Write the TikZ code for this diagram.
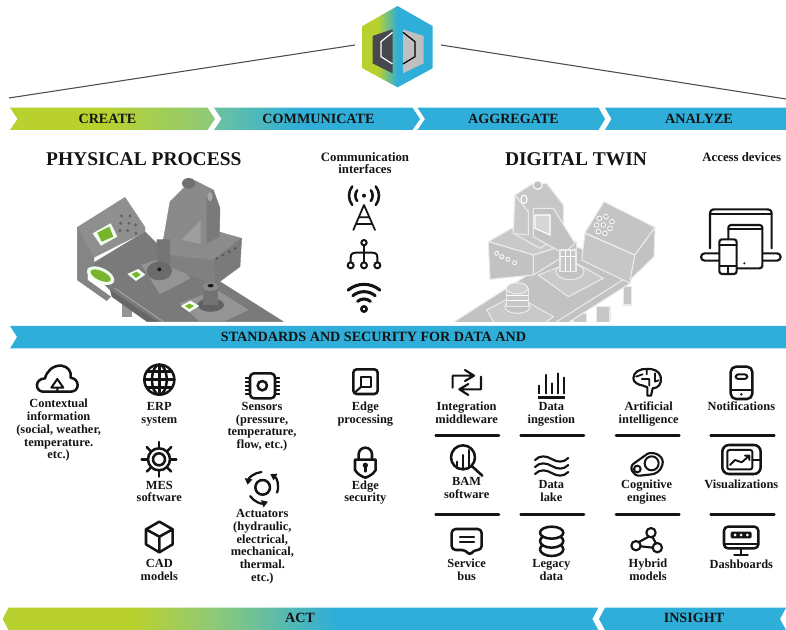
\documentclass[tikz,border=0pt]{standalone}
\usepackage{fontspec}
\setmainfont{Liberation Serif}
\usetikzlibrary{arrows.meta}
\definecolor{gr}{HTML}{B9D12F}
\definecolor{mi}{HTML}{8CC97A}
\definecolor{te}{HTML}{6CC2A0}
\definecolor{bl}{HTML}{2EAED8}
\definecolor{lgd}{HTML}{47474F}
\definecolor{mkgreen}{HTML}{78B52C}
\newcommand{\lblstrut}{\rule[-2.1pt]{0pt}{8.9pt}}
\newcommand{\lblt}[1]{\lblstrut #1\lblstrut}
\pgfdeclarehorizontalshading{createshade}{100bp}{color(0bp)=(gr); color(48bp)=(gr); color(75bp)=(mi); color(100bp)=(mi)}
\pgfdeclarehorizontalshading{commshade}{100bp}{color(0bp)=(te); color(25bp)=(te); color(46bp)=(bl); color(100bp)=(bl)}
\pgfdeclarehorizontalshading{actshade}{100bp}{color(0bp)=(gr); color(36bp)=(gr); color(43bp)=(mi); color(53bp)=(bl); color(100bp)=(bl)}
\pgfdeclarehorizontalshading{logoshade}{100bp}{color(0bp)=(gr); color(36bp)=(gr); color(50bp)=(bl); color(100bp)=(bl)}
\tikzset{
  lbl/.style={font=\bfseries\fontsize{9.3}{9.55}\selectfont,align=center,inner sep=0pt,text=black!92},
  band/.style={font=\bfseries\fontsize{10.6}{12}\selectfont,inner sep=0pt,text=black!92},
  ttl/.style={font=\bfseries\fontsize{14.6}{16}\selectfont,inner sep=0pt,text=black!92},
  sub/.style={font=\bfseries\fontsize{9.6}{9.5}\selectfont,align=center,inner sep=0pt,text=black!92},
  ic/.style={draw=black!92,line width=1.9pt,line cap=round,line join=round},
  hrl/.style={draw=black!92,line width=2pt,line cap=round},
  skyl/.style={draw=black!70,line width=.8pt},
  phys/.style={fill=#1,draw=#1,line width=.3pt,line join=round},
  twin/.style={fill=#1,draw=white!92!black,line width=.8pt,line join=round},
  mkw/.style={fill=white!94!green,draw=none},
  mkg/.style={fill=mkgreen,draw=none},
}
\begin{document}
\begin{tikzpicture}[x=.75pt,y=-.75pt]
\useasboundingbox (0,0) rectangle (786,630);
\fill[white] (0,0) rectangle (786,630);

% ---------- logo and sky lines (2x / 3x zoom coordinates)
\begin{scope}[x=.375pt,y=-.25pt]
\shade[shading=logoshade] (795,18)--(865,78)--(865,205)--(795,262)--(725,205)--(725,78)--cycle;
\fill[lgd] (785,88)--(745,108)--(745,190)--(785,220)--cycle;
\fill[black!25] (806,88)--(847,108)--(847,190)--(806,220)--cycle;
\draw[white,line width=.9pt] (785,97)--(762,125)--(762,170)--(785,192);
\draw[black,line width=.9pt] (806,97)--(830,125)--(830,170)--(806,192);
\coordinate (la) at (18,294); \coordinate (lb) at (710,135);
\coordinate (ra) at (882,135); \coordinate (rb) at (1572,297);
\draw[skyl] (la)--(lb);
\draw[skyl] (ra)--(rb);
% bands
\shade[shading=createshade] (20,323)--(415,323)--(430,357)--(415,390)--(20,390)--(35,357)--cycle;
\shade[shading=commshade] (428,323)--(825,323)--(840,357)--(825,390)--(428,390)--(443,357)--cycle;
\fill[bl] (835,323)--(1197,323)--(1210,357)--(1197,390)--(835,390)--(850,357)--cycle;
\fill[bl] (1210,323)--(1572,323)--(1572,390)--(1210,390)--(1223,357)--cycle;
\end{scope}
\node[band] (tcreate) at (107.5,119) {CREATE};
\node[band] (tcomm) at (318.5,119) {COMMUNICATE};
\node[band] (taggr) at (513.5,119) {AGGREGATE};
\node[band] (tanal) at (699,119) {ANALYZE};

\node[ttl] (tphys) at (143.8,159) {PHYSICAL PROCESS};
\node[ttl] (ttwin) at (576,159) {DIGITAL TWIN};
\node[sub] (tci) at (365,163) {Communication\\interfaces};
\node[sub] (tad) at (741.7,157) {Access devices};

% ---------- middle and bottom bands
\fill[bl] (10,326)--(786,326)--(786,348.5)--(10,348.5)--(17,337)--cycle;
\node[band] (tstd) at (373.5,337.2) {STANDARDS AND SECURITY FOR DATA AND};
\shade[shading=actshade] (2.7,619)--(8.5,607.7)--(598.3,607.7)--(592.3,619)--(598.3,630)--(8.5,630)--cycle;
\fill[bl] (599,619)--(605,607.7)--(786,607.7)--(780,619)--(786,630)--(605,630)--cycle;
\node[band] (tact) at (300,618.3) {ACT};
\node[band] (tins) at (694,618.3) {INSIGHT};

% ---------- physical process
\begin{scope}[shift={(0,140)},x=.25pt,y=-.25pt]
\clip (200,100) rectangle (860,545);
\fill[black!42] (365,470) rectangle (395,530);
\fill[black!45] (440,520) rectangle (475,545);
\fill[phys=black!52] (262,380)--(435,275)--(500,340)--(660,425)--(850,545)--(475,545)--(330,450)--cycle;
\fill[black!60] (330,450)--(475,545)--(440,545)--(335,470)--cycle;
\draw[black!30,line width=.5pt] (345,445)--(490,545);
\fill[phys=black!42] (425,375)--(515,345)--(570,415)--(480,462)--cycle;
\fill[phys=black!42] (540,490)--(650,450)--(745,510)--(670,545)--(600,545)--cycle;
\fill[phys=black!44] (232,262)--(375,172)--(435,262)--(435,275)--(282,352)--cycle;
\fill[phys=black!48] (232,262)--(282,352)--(282,372)--(262,385)--(262,420)--(332,470)--(320,482)--(232,420)--cycle;
\foreach \px/\py in {365/228,390/228,362/250,387/250,407/255,383/272,360/272,408/280}
  \fill[black!62] (\px,\py) circle (5);
% robot block
\fill[phys=black!45] (470,315)--(550,245)--(725,295)--(640,360)--(500,345)--cycle;
\fill[phys=black!52] (640,360)--(725,295)--(720,380)--(645,435)--cycle;
\fill[phys=black!50] (500,345)--(640,360)--(645,435)--(510,380)--cycle;
\foreach \px/\py in {650/355,668/345,688/335,706/325} \fill[black!68] (\px,\py) circle (4);
% tower
\fill[phys=black!46] (510,185)--(555,140)--(585,122)--(640,150)--(660,205)--(658,290)--(600,330)--(520,305)--(490,300)--cycle;
\fill[black!38] (545,300)--(602,240)--(602,312)--cycle;
\fill[black!52] (640,150)--(660,205)--(658,290)--(620,310)--(620,170)--cycle;
\fill[black!56] (566,130) ellipse (20 and 16);
\fill[black!35] (630,170) ellipse (8 and 14);
\fill[black!54] (470,298)--(510,298)--(510,385)--(470,375)--cycle;
% cylinders
\fill[black!58] (478,393) ellipse (38 and 28);
\fill[black!90] (478,388) circle (6);
\fill[black!62] (632,495) ellipse (40 and 20);
\fill[black!55] (610,440) rectangle (655,495);
\fill[black!46] (632,440) ellipse (24 and 13);
\fill[black!90] (632,437) ellipse (9 and 5);
% markers
\fill[mkw] (278,280)--(332,250)--(352,290)--(303,317)--cycle;
\fill[mkg] (292,278)--(328,260)--(340,290)--(305,305)--cycle;
\fill[mkw,rotate around={-25:(302,407)}] (302,407) ellipse (44 and 23);
\fill[mkg,rotate around={-25:(302,407)}] (302,407) ellipse (33 and 14);
\fill[mkw] (382,402)--(415,387)--(436,404)--(408,423)--cycle;
\fill[mkg] (395,402)--(410,395)--(422,404)--(408,414)--cycle;
\fill[mkw] (542,498)--(572,482)--(598,498)--(568,516)--cycle;
\fill[mkg] (555,498)--(568,491)--(582,498)--(568,507)--cycle;
\end{scope}

% ---------- digital twin
\begin{scope}[shift={(400,140)},x=.25pt,y=-.25pt]
\clip (140,100) rectangle (790,545);
\fill[twin=black!22] (590,500) rectangle (630,560);
\fill[twin=black!22] (670,440) rectangle (695,495);
\fill[twin=black!22] (520,520) rectangle (560,560);
\fill[twin=black!24] (530,320)--(700,400)--(470,560)--(140,560)--(390,400)--cycle;
\fill[twin=black!24] (700,400)--(690,430)--(470,570)--(470,545)--cycle;
\fill[twin=black!21] (415,405)--(520,365)--(610,415)--(505,470)--cycle;
\fill[twin=black!21] (260,510)--(345,465)--(460,530)--(420,560)--(290,560)--cycle;
\fill[twin=black!22] (555,280)--(705,345)--(690,430)--(545,360)--cycle;
\fill[twin=black!23] (555,278)--(612,185)--(765,262)--(705,345)--cycle;
\fill[twin=black!24] (705,345)--(765,262)--(762,350)--(690,420)--cycle;
\foreach \px/\py in {598/235,618/230,636/245,590/255,610/255,630/265,595/275,615/280}
  \draw[white,fill=black!27,line width=.6pt] (\px,\py) circle (7);
% block
\fill[twin=black!21] (265,305)--(335,265)--(530,305)--(400,345)--cycle;
\fill[twin=black!24] (265,305)--(400,345)--(400,405)--(270,418)--cycle;
\fill[twin=black!23] (400,345)--(530,305)--(530,325)--(400,405)--cycle;
\foreach \px/\py in {290/340,306/350,324/358,344/368} \draw[white,line width=.6pt] (\px,\py) circle (6);
% tower
\fill[twin=black!22] (345,165)--(400,130)--(440,130)--(490,195)--(490,280)--(420,325)--(340,280)--cycle;
\fill[twin=black!21] (345,165)--(385,215)--(385,285)--(340,280)--cycle;
\fill[twin=black!24] (400,205)--(460,205)--(525,310)--(490,340)--(400,290)--cycle;
\draw[white,fill=black!16,line width=.8pt] (405,225)--(450,225)--(450,285)--(405,265)--cycle;
\draw[white,line width=.8pt] (372,178) ellipse (9 and 13);
\draw[white,fill=black!24,line width=.8pt] (413,135) ellipse (14 and 13);
% gripper & bases
\fill[twin=black!24] (510,395) ellipse (42 and 24);
\fill[twin=black!22] (480,330) rectangle (528,395);
\draw[white,line width=.7pt] (480,350)--(528,350) (496,330)--(496,395) (512,330)--(512,395);
\fill[twin=black!24] (352,500) ellipse (38 and 20);
\fill[twin=black!22] (320,445) rectangle (385,500);
\draw[white,line width=.7pt] (320,465)--(385,465) (320,482)--(385,482);
\fill[twin=black!19] (352,445) ellipse (32 and 17);
\end{scope}

% ---------- comm icons
\begin{scope}[shift={(0,140)},x=.25pt,y=-.25pt]
\fill[black!92] (1092,167) circle (6);
\foreach \r in {26,45}{
 \draw[ic,shift={(1092,167)}] (38:\r) arc[start angle=38,end angle=-38,radius=\r];
 \draw[ic,shift={(1092,167)}] (142:\r) arc[start angle=142,end angle=218,radius=\r];
}
\draw[ic,line width=1.3pt] (1060,270)--(1092,195)--(1125,270) (1078,232)--(1106,232) (1068,252)--(1116,252);
\draw[ic,line width=1.5pt] (1092,308) circle (8);
\draw[ic,line width=1.5pt] (1092,316)--(1092,367);
\draw[ic,line width=1.5pt] (1052,367)--(1052,352) .. controls (1052,340) and (1060,338) .. (1070,338)--(1114,338) .. controls (1125,338) and (1132,340) .. (1132,352)--(1132,367);
\foreach \px in {1052,1092,1132}\draw[ic,line width=1.5pt] (\px,376) circle (9);
\foreach \r in {30,52,74}{
 \draw[ic,line width=2.3pt,shift={(1092,507)}] (-130:\r) arc[start angle=-130,end angle=-50,radius=\r];
}
\draw[ic] (1092,507) circle (8);
\end{scope}

% ---------- access devices
\begin{scope}[shift={(400,140)},x=.25pt,y=-.25pt]
\draw[ic,line width=1.6pt] (930,325)--(930,222) .. controls (930,212) and (935,208) .. (945,208)--(1100,208) .. controls (1110,208) and (1115,212) .. (1115,222)--(1115,325);
\draw[ic,line width=1.6pt] (930,222)--(1115,222);
\draw[ic,line width=1.6pt,fill=white] (914,340)--(1131,340) arc[start angle=-90,end angle=90,radius=11] -- (914,362) arc[start angle=90,end angle=270,radius=11] -- cycle;
\draw[ic,line width=1.6pt,fill=white,rounded corners=2pt] (985,255) rectangle (1087,385);
\draw[ic,line width=1.6pt] (985,268)--(1087,268);
\fill[black!92] (1033,370) circle (3.5);
\draw[ic,line width=1.6pt,fill=white,rounded corners=2pt] (958,298) rectangle (1010,402);
\draw[ic,line width=1.6pt] (958,315)--(1010,315) (958,378)--(1010,378) (985,378)--(985,402);
\end{scope}

% ---------- lower left group
\begin{scope}[shift={(0,355)},x=.25pt,y=-.25pt]
\node[lbl] (lctx) at (176,226) {\lblt{Contextual\\information\\(social, weather,\\temperature.\\etc.)}};
\node[lbl] (lerp) at (478,176) {\lblt{ERP\\system}};
\node[lbl] (lmes) at (478,412) {\lblt{MES\\software}};
\node[lbl] (lcad) at (478,647) {\lblt{CAD\\models}};
\node[lbl] (lsen) at (786,214) {\lblt{Sensors\\(pressure,\\temperature,\\flow, etc.)}};
\node[lbl] (lact) at (787,574) {\lblt{Actuators\\(hydraulic,\\electrical,\\mechanical,\\thermal.\\etc.)}};
\node[lbl] (lepr) at (1096,177) {\lblt{Edge\\processing}};
\node[lbl] (lesc) at (1096,412) {\lblt{Edge\\security}};
% cloud
\draw[ic] (128,110) .. controls (105,108) and (103,72) .. (135,70) .. controls (140,48) and (160,30) .. (185,32) .. controls (205,35) and (215,50) .. (212,68) .. controls (240,72) and (240,110) .. (212,110) -- cycle;
\draw[ic,line width=1.5pt] (172,72)--(190,98)--(154,98)--cycle (172,98)--(172,110);
% globe
\draw[ic] (478,74) circle (45);
\draw[ic] (478,74) ellipse (22 and 45);
\draw[ic] (478,29)--(478,119) (433,74)--(523,74) (441,50)--(515,50) (441,98)--(515,98);
% gear
\draw[ic] (477,313) circle (33);
\draw[ic] (477,313) circle (18);
\foreach \a in {0,45,...,315} \draw[ic,shift={(477,313)}] (\a:34)--(\a:52);
% cube
\draw[ic] (478,500)--(518,523)--(518,568)--(478,592)--(438,568)--(438,523)--cycle (438,523)--(478,545)--(518,523) (478,545)--(478,592);
% chip
\draw[ic,rounded corners=3pt] (750,55) rectangle (825,130);
\draw[ic] (787,92) circle (14);
\foreach \py in {68,80,92,104,116} \draw[ic,line width=1.3pt] (737,\py)--(750,\py) (825,\py)--(838,\py);
% edge processing
\draw[ic,rounded corners=2.5pt] (1060,43) rectangle (1133,117);
\draw[ic,line width=1.5pt] (1084,65) rectangle (1113,95);
\draw[ic,line width=1.5pt] (1084,95)--(1065,112);
% lock
\draw[ic] (1076,312)--(1076,298) arc[start angle=180,end angle=360,radius=20] -- (1116,312);
\draw[ic] (1065,314)--(1127,314)--(1127,345) .. controls (1120,358) and (1105,365) .. (1096,368) .. controls (1087,365) and (1072,358) .. (1065,345) -- cycle;
\fill[black!92] (1096,331) circle (8);
\draw[ic] (1096,331)--(1096,349);
% actuators
\draw[ic] (788,397) circle (22);
\begin{scope}[shift={(788,397)}]
\draw[ic,line width=1.7pt,-{Triangle[length=4.5pt,width=5.5pt]}] (20:46) arc[start angle=20,end angle=-60,radius=46];
\draw[ic,line width=1.7pt,-{Triangle[length=4.5pt,width=5.5pt]}] (-95:46) arc[start angle=-95,end angle=-170,radius=46];
\draw[ic,line width=1.7pt,-{Triangle[length=4.5pt,width=5.5pt]}] (-215:46) arc[start angle=-215,end angle=-290,radius=46];
\end{scope}
\end{scope}

% ---------- lower right group
\begin{scope}[shift={(420,355)},x=.25pt,y=-.25pt]
\node[lbl] (lint) at (140,176) {\lblt{Integration\\middleware}};
\node[lbl] (ling) at (394,176) {\lblt{Data\\ingestion}};
\node[lbl] (lart) at (686,176) {\lblt{Artificial\\intelligence}};
\node[lbl] (lnot) at (964,157) {\lblt{Notifications}};
\node[lbl] (lbam) at (140,401) {\lblt{BAM\\software}};
\node[lbl] (llak) at (394,411) {\lblt{Data\\lake}};
\node[lbl] (lcog) at (680,411) {\lblt{Cognitive\\engines}};
\node[lbl] (lvis) at (964,390) {\lblt{Visualizations}};
\node[lbl] (lsvc) at (140,648) {\lblt{Service\\bus}};
\node[lbl] (lleg) at (394,648) {\lblt{Legacy\\data}};
\node[lbl] (lhyb) at (684,648) {\lblt{Hybrid\\models}};
\node[lbl] (ldsh) at (964,630) {\lblt{Dashboards}};
\foreach \yy in {241,478}{
 \draw[hrl] (47,\yy)--(237,\yy);
 \draw[hrl] (302,\yy)--(492,\yy);
 \draw[hrl] (588,\yy)--(778,\yy);
 \draw[hrl] (872,\yy)--(1063,\yy);
}
% integration
\draw[ic,line width=1.6pt] (98,98)--(98,62)--(162,62) (135,45)--(162,62)--(135,78);
\draw[ic,line width=1.6pt] (183,65)--(183,103)--(118,103) (145,87)--(118,103)--(145,120);
% ingestion
\draw[ic,line width=2.2pt,line cap=butt] (355,128)--(435,128);
\draw[ic,line width=1.6pt] (358,92)--(358,115) (377,60)--(377,115) (396,85)--(396,115) (414,55)--(414,115) (433,68)--(433,115);
% brain
\draw[ic,line width=1.6pt] (682,122)--(693,122)--(698,100) .. controls (715,100) and (727,85) .. (722,65) .. controls (718,48) and (700,40) .. (680,42) .. controls (660,40) and (640,52) .. (640,70) .. controls (640,82) and (655,90) .. (670,92) -- (682,97) -- cycle;
\draw[ic,line width=1.3pt] (680,43)--(680,58) (648,65)--(668,58) (665,72)--(688,72)--(688,92) (705,55)--(705,80)--(716,76);
% phone
\draw[ic,rounded corners=4pt] (932,35) rectangle (997,132);
\draw[ic,rounded corners=2pt,line width=1.5pt] (947,58) rectangle (982,72);
\draw[ic,line width=1.5pt] (932,105)--(997,105);
\fill[black!92] (964,118) circle (4);
% BAM
\draw[ic] (129,307) circle (36);
\draw[ic,line width=1.5pt] (112,320)--(112,340) (130,300)--(130,342) (148,285)--(148,338);
\draw[ic] (155,333)--(187,362);
% lake
\foreach \yy in {312,333,354}
 \draw[ic,line width=1.6pt] (345,\yy+3) .. controls (360,\yy-12) and (378,\yy-10) .. (395,\yy) .. controls (412,\yy+10) and (430,\yy+12) .. (445,\yy-3);
% engine
\draw[ic,line width=1.6pt] (645,323)--(683,296) .. controls (705,288) and (735,305) .. (727,330) .. controls (722,350) and (705,357) .. (695,358)--(660,362) .. controls (640,365) and (622,335) .. (645,323);
\draw[ic,line width=1.5pt] (695,325) circle (21);
\draw[ic,line width=1.5pt] (652,342) circle (10);
% visualizations
\draw[ic,rounded corners=5pt] (907,270) rectangle (1022,357);
\draw[ic,line width=1.5pt,rounded corners=1.5pt] (922,285) rectangle (997,343);
\draw[ic,line width=1.5pt] (997,315)--(1022,315);
\draw[ic,line width=1.4pt] (930,330)--(945,315)--(965,322)--(988,302) (975,302)--(988,302)--(988,315);
% service bus
\draw[ic,rounded corners=3pt] (95,522)--(185,522)--(185,585)--(160,585)--(150,603)--(138,585)--(95,585)--cycle;
\draw[ic,line width=1.6pt] (120,545)--(162,545) (120,562)--(162,562);
% legacy
\draw[ic,fill=white] (395,583) ellipse (35 and 20);
\draw[ic,fill=white] (395,558) ellipse (35 and 20);
\draw[ic,fill=white] (395,533) ellipse (35 and 18);
% hybrid
\draw[ic,line width=1.6pt] (686,545)--(655,562) (698,547)--(708,565) (662,574)--(698,578);
\foreach \px/\py in {693/533,648/572,712/578}\draw[ic,line width=1.6pt] (\px,\py) circle (14);
% dashboard
\draw[ic,rounded corners=3pt] (912,515) rectangle (1015,580);
\draw[ic,line width=1.5pt] (912,566)--(1015,566);
\fill[black!92,rounded corners=1pt] (932,530) rectangle (995,550);
\foreach \px in {945,963,982}\fill[white] (\px,540) circle (4.5);
\draw[ic] (963,580)--(963,600) (943,600)--(983,600);
\end{scope}
\end{tikzpicture}
\end{document}
